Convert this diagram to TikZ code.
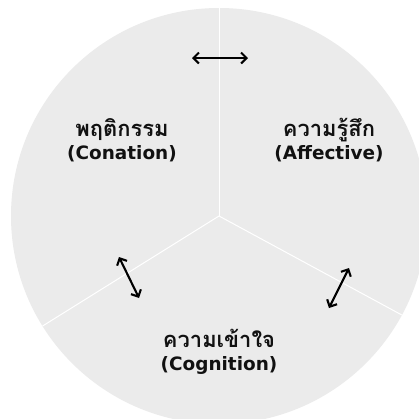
\documentclass[tikz,border=0pt]{standalone}
\usepackage{fontspec}
\setmainfont{DejaVu Sans}
\newfontfamily\thaifont[Script=Thai]{Loma}
\usetikzlibrary{arrows.meta}
\definecolor{disc}{HTML}{EBEBEB}
\definecolor{ink}{HTML}{111111}
\newcommand{\thl}[1]{{\thaifont\bfseries\fontsize{22}{23}\selectfont #1}}
\tikzset{
  lbl/.style={align=center, font=\bfseries\fontsize{18.5}{23}\selectfont, text=ink, inner sep=0pt},
  dbl/.style={{Straight Barb[length=5.5bp,width=11bp]}-{Straight Barb[length=5.5bp,width=11bp]}, line width=2.1bp, black},
  divider/.style={white, line width=1bp}
}
\begin{document}
\begin{tikzpicture}[x=1bp,y=-1bp]
\useasboundingbox (0,0) rectangle (419,419);
\fill[white] (0,0) rectangle (419,419);
\begin{scope}
\clip (0,0) rectangle (419,419);
\fill[disc] (219,216) circle (208);
\end{scope}
\coordinate (c) at (219,216);
\coordinate (top) at (219,8);
\coordinate (ll) at (42.6,326);
\coordinate (lr) at (401.8,315);
\draw[divider] (c) -- (top);
\draw[divider] (c) -- (ll);
\draw[divider] (c) -- (lr);
\node[lbl] (con) at (122,140) {\thl{พฤติกรรม}\\(Conation)};
\node[lbl] (aff) at (329,140) {\thl{ความรู้สึก}\\(Affective)};
\node[lbl] (cog) at (219,352) {\thl{ความเข้าใจ}\\(Cognition)};
\coordinate (a1) at (192,58);
\coordinate (a2) at (248,58);
\coordinate (b1) at (119,257);
\coordinate (b2) at (139,298);
\coordinate (d1) at (349,268);
\coordinate (d2) at (329,308);
\draw[dbl] (a1) -- (a2);
\draw[dbl] (b1) -- (b2);
\draw[dbl] (d1) -- (d2);
\end{tikzpicture}
\end{document}
